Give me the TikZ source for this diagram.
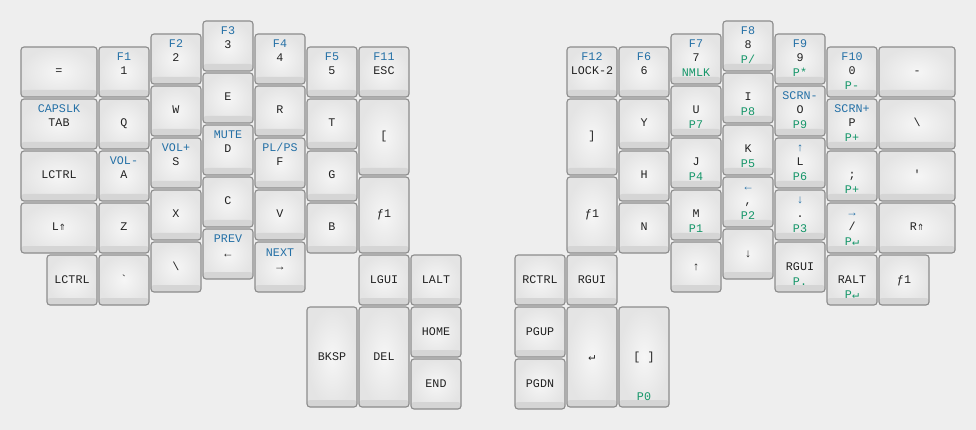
\documentclass[tikz,border=0pt]{standalone}
\usepackage{fontspec}
\usepackage{tikz}
\setmonofont{Liberation Mono}
\newfontfamily\symfont{DejaVu Sans Mono}
\definecolor{bgcol}{HTML}{EEEEEE}
\definecolor{keyline}{HTML}{8C8C8C}
\definecolor{keyface}{HTML}{E4E4E4}
\definecolor{keyhi}{HTML}{F6F6F6}
\definecolor{keybase}{HTML}{D5D5D5}
\definecolor{keytext}{HTML}{222222}
\definecolor{shiftblue}{HTML}{2470A6}
\definecolor{holdgreen}{HTML}{159669}

\begin{document}
\begin{tikzpicture}[x=1pt, y=-1pt,
		legend_font/.style={font=\ttfamily\fontsize{11.7}{12}\selectfont, text height=8pt, text depth=2pt, inner sep=0pt},
		key_style/.style={draw=keyline, line width=1.1pt, rounded corners=3pt, inner color=keyhi, outer color=keyface,
			minimum width=50pt, minimum height=50pt, outer sep=0pt, text=keytext, legend_font,
			path picture={\fill[keybase] ([yshift=7pt]path picture bounding box.south west) rectangle (path picture bounding box.south east);}},
		wide_style/.style={minimum width=76pt},
		mid_style/.style={minimum height=76pt},
		tall_style/.style={minimum height=100pt},
		shift_lbl/.style={legend_font, text=shiftblue, anchor=center, yshift=-11pt},
		hold_lbl/.style={legend_font, text=holdgreen, anchor=center, yshift=10pt},
		shift_style/.style={label={[shift_lbl]north:#1}},
		hold_style/.style={label={[hold_lbl]south:#1}}]
		\fill[bgcol] (0,0) rectangle (976,430);
		\useasboundingbox (0,0) rectangle (976,430);
		% left half
		\node[key_style,wide_style] (kEq) at (59,72) {=};
		\node[key_style,wide_style,shift_style=CAPSLK] (kTab) at (59,124) {TAB};
		\node[key_style,wide_style] (kLctrlA) at (59,176) {LCTRL};
		\node[key_style,wide_style] (kLshift) at (59,228) {L{\symfont ⇑}};
		\node[key_style] (kLctrlB) at (72,280) {LCTRL};
		\node[key_style,shift_style=F1] (kOne) at (124,72) {1};
		\node[key_style] (kQ) at (124,124) {Q};
		\node[key_style,shift_style=VOL-] (kA) at (124,176) {A};
		\node[key_style] (kZ) at (124,228) {Z};
		\node[key_style] (kGrave) at (124,280) {`};
		\node[key_style,shift_style=F2] (kTwo) at (176,59) {2};
		\node[key_style] (kW) at (176,111) {W};
		\node[key_style,shift_style=VOL+] (kS) at (176,163) {S};
		\node[key_style] (kX) at (176,215) {X};
		\node[key_style] (kBslA) at (176,267) {\textbackslash};
		\node[key_style,shift_style=F3] (kThree) at (228,46) {3};
		\node[key_style] (kE) at (228,98) {E};
		\node[key_style,shift_style=MUTE] (kD) at (228,150) {D};
		\node[key_style] (kC) at (228,202) {C};
		\node[key_style,shift_style=PREV] (kLeftA) at (228,254) {←};
		\node[key_style,shift_style=F4] (kFour) at (280,59) {4};
		\node[key_style] (kR) at (280,111) {R};
		\node[key_style,shift_style=PL/PS] (kF) at (280,163) {F};
		\node[key_style] (kV) at (280,215) {V};
		\node[key_style,shift_style=NEXT] (kRightA) at (280,267) {→};
		\node[key_style,shift_style=F5] (kFive) at (332,72) {5};
		\node[key_style] (kT) at (332,124) {T};
		\node[key_style] (kG) at (332,176) {G};
		\node[key_style] (kB) at (332,228) {B};
		\node[key_style,shift_style=F11] (kEsc) at (384,72) {ESC};
		\node[key_style,mid_style] (kLbrk) at (384,137) {[};
		\node[key_style,mid_style] (kFnA) at (384,215) {ƒ1};
		% left thumb
		\node[key_style] (kLgui) at (384,280) {LGUI};
		\node[key_style] (kLalt) at (436,280) {LALT};
		\node[key_style,tall_style] (kBksp) at (332,357) {BKSP};
		\node[key_style,tall_style] (kDel) at (384,357) {DEL};
		\node[key_style] (kHome) at (436,332) {HOME};
		\node[key_style] (kEnd) at (436,384) {END};
		% right half
		\node[key_style,shift_style=F12] (kLock) at (592,72) {LOCK-2};
		\node[key_style,mid_style] (kRbrk) at (592,137) {]};
		\node[key_style,mid_style] (kFnB) at (592,215) {ƒ1};
		\node[key_style,shift_style=F6] (kSix) at (644,72) {6};
		\node[key_style] (kY) at (644,124) {Y};
		\node[key_style] (kH) at (644,176) {H};
		\node[key_style] (kN) at (644,228) {N};
		\node[key_style,shift_style=F7,hold_style=NMLK] (kSeven) at (696,59) {7};
		\node[key_style,hold_style=P7] (kU) at (696,111) {U};
		\node[key_style,hold_style=P4] (kJ) at (696,163) {J};
		\node[key_style,hold_style=P1] (kM) at (696,215) {M};
		\node[key_style] (kUp) at (696,267) {↑};
		\node[key_style,shift_style=F8,hold_style=P/] (kEight) at (748,46) {8};
		\node[key_style,hold_style=P8] (kI) at (748,98) {I};
		\node[key_style,hold_style=P5] (kK) at (748,150) {K};
		\node[key_style,shift_style=←,hold_style=P2] (kComma) at (748,202) {,};
		\node[key_style] (kDown) at (748,254) {↓};
		\node[key_style,shift_style=F9,hold_style=P*] (kNine) at (800,59) {9};
		\node[key_style,shift_style=SCRN-,hold_style=P9] (kO) at (800,111) {O};
		\node[key_style,shift_style=↑,hold_style=P6] (kL) at (800,163) {L};
		\node[key_style,shift_style=↓,hold_style=P3] (kDot) at (800,215) {.};
		\node[key_style,hold_style=P.] (kRguiB) at (800,267) {RGUI};
		\node[key_style,shift_style=F10,hold_style=P-] (kZero) at (852,72) {0};
		\node[key_style,shift_style=SCRN+,hold_style=P+] (kP) at (852,124) {P};
		\node[key_style,hold_style=P+] (kSemi) at (852,176) {;};
		\node[key_style,shift_style=→,hold_style={P{\symfont ↵}}] (kSlash) at (852,228) {/};
		\node[key_style,hold_style={P{\symfont ↵}}] (kRalt) at (852,280) {RALT};
		\node[key_style,wide_style] (kMinus) at (917,72) {-};
		\node[key_style,wide_style] (kBslB) at (917,124) {\textbackslash};
		\node[key_style,wide_style] (kQuote) at (917,176) {'};
		\node[key_style,wide_style] (kRshift) at (917,228) {R{\symfont ⇑}};
		\node[key_style] (kFnC) at (904,280) {ƒ1};
		% right thumb
		\node[key_style] (kRctrl) at (540,280) {RCTRL};
		\node[key_style] (kRguiA) at (592,280) {RGUI};
		\node[key_style] (kPgup) at (540,332) {PGUP};
		\node[key_style] (kPgdn) at (540,384) {PGDN};
		\node[key_style,tall_style] (kEnter) at (592,357) {{\symfont ↵}};
		\node[key_style,tall_style,hold_style=P0] (kSpace) at (644,357) {[ ]};
\end{tikzpicture}
\end{document}
